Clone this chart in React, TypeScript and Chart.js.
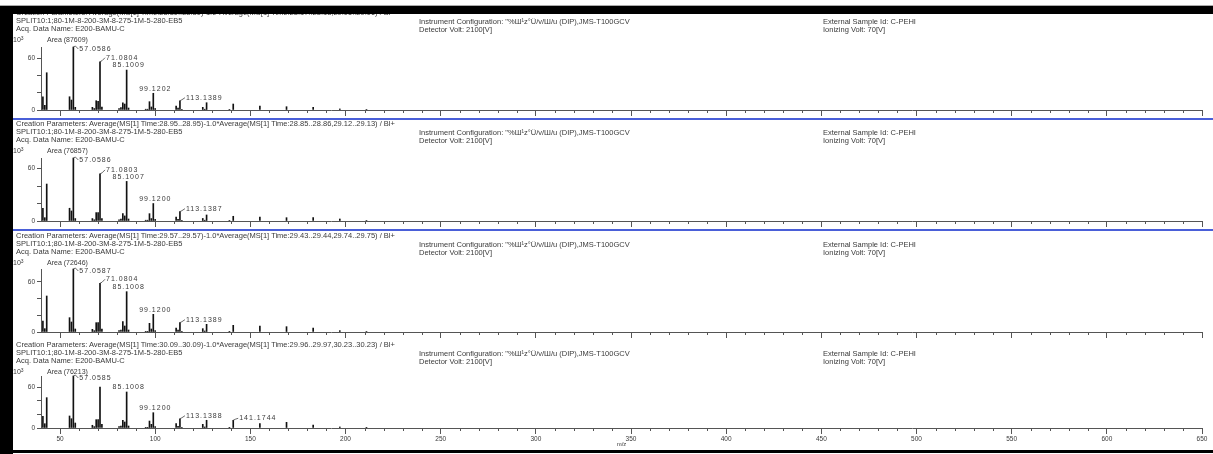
import React, { useEffect, useRef } from "react";
import { Chart, registerables } from "chart.js";

Chart.register(...registerables);

// ---------- data ----------
const mzPeaks = [41, 42, 43, 55, 56, 57, 58, 67, 68, 69, 70, 71, 72, 81, 82, 83, 84, 85, 86, 95, 96, 97, 98, 99, 100, 111, 112, 113, 114, 125, 126, 127, 139, 141, 155, 169, 183, 197, 211];
const intensity1 = [15.3, 5.4, 43, 15.3, 11.5, 72.7, 3.1, 3.1, 1.7, 10.7, 10, 55.7, 3.5, 1.7, 2.9, 8.4, 6.9, 46.1, 2.3, 0.9, 0.9, 9.6, 3.5, 19.3, 1.7, 4.6, 2.3, 10.7, 0.9, 3.1, 0.9, 8.4, 0.7, 6.9, 4.6, 3.8, 3.1, 1.2, 0.5];
const intensity2 = [14.6, 3.8, 42.3, 14.6, 11.5, 72.1, 2.8, 2.8, 1.4, 9.6, 9.6, 53.9, 2.8, 1.4, 2.3, 8.4, 5.8, 45.3, 2.3, 0.9, 0.9, 8.4, 2.8, 20, 1.8, 4.6, 1.8, 10.7, 0.9, 2.9, 0.9, 6.9, 0.7, 5.4, 4.6, 3.8, 3.8, 2.3, 0.5];
const intensity3 = [13.2, 4, 43.2, 17.2, 12, 75.6, 3.6, 3.2, 1.6, 11.2, 11.2, 58.5, 3.6, 1.6, 2.4, 12.4, 7.2, 48.4, 2.4, 0.8, 0.8, 10.4, 3.6, 21.2, 1.6, 4.8, 2.4, 11.2, 0.8, 4, 1.2, 9.2, 0.8, 8, 7.2, 6.4, 4.8, 1.6, 0.5];
const intensity4 = [17.1, 6.3, 44.4, 17.6, 13.6, 76.1, 7.3, 4, 2, 12.2, 12.2, 60, 5.4, 2, 2.9, 11.3, 8.8, 52.7, 2.9, 1, 1, 10.2, 5.4, 22.4, 2, 6.3, 2.5, 13.6, 1, 5.4, 1.5, 11.3, 1, 11.3, 6.3, 8.3, 4.4, 1.5, 0.4];

const xTickValues = [50, 100, 150, 200, 250, 300, 350, 400, 450, 500, 550, 600, 650];
const yTickValues = [0, 20, 40, 60, 80, 100];
const yLabelValues = [0, 60];
const areaValues = ["87609", "76857", "72646", "76213"];
const creationLines = [
  "Creation Parameters: Average(MS[1] Time:28.30..28.30)-1.0*Average(MS[1] Time:28.17..28.18,29.05..29.06) / Bl+",
  "Creation Parameters: Average(MS[1] Time:28.95..28.95)-1.0*Average(MS[1] Time:28.85..28.86,29.12..29.13) / Bl+",
  "Creation Parameters: Average(MS[1] Time:29.57..29.57)-1.0*Average(MS[1] Time:29.43..29.44,29.74..29.75) / Bl+",
  "Creation Parameters: Average(MS[1] Time:30.09..30.09)-1.0*Average(MS[1] Time:29.96..29.97,30.23..30.23) / Bl+",
];
const methodLine = "SPLIT10:1;80-1M-8-200-3M-8-275-1M-5-280-EB5";
const acqLine = "Acq. Data Name: E200-BAMU-C";
const instrumentLine = "Instrument Configuration: \"%Ш\u00b9z\u00b0Ü/v/Ш/u (DIP),JMS-T100GCV";
const detectorLine = "Detector Volt: 2100[V]";
const sampleLine = "External Sample Id: C-PEHI";
const ionizingLine = "Ionizing Volt: 70[V]";
const xTitle = "m/z";

const peakLabels1 = [
  { mz: 57, text: "57.0586" }, { mz: 71, text: "71.0804" }, { mz: 85, text: "85.1009" },
  { mz: 99, text: "99.1202" }, { mz: 113, text: "113.1389" },
];
const peakLabels2 = [
  { mz: 57, text: "57.0586" }, { mz: 71, text: "71.0803" }, { mz: 85, text: "85.1007" },
  { mz: 99, text: "99.1200" }, { mz: 113, text: "113.1387" },
];
const peakLabels3 = [
  { mz: 57, text: "57.0587" }, { mz: 71, text: "71.0804" }, { mz: 85, text: "85.1008" },
  { mz: 99, text: "99.1200" }, { mz: 113, text: "113.1389" },
];
const peakLabels4 = [
  { mz: 57, text: "57.0585" }, { mz: 85, text: "85.1008" }, { mz: 99, text: "99.1200" },
  { mz: 113, text: "113.1388" }, { mz: 141, text: "141.1744" },
];

// ---------- layout / style ----------
const W = 1213;
const FONT = "'Liberation Sans', Arial, sans-serif";
const TEXT = "#3a3a3a";
const AXIS = "#555";
const X_MIN = 40;
const X_MAX = 650;
const PLOT_LEFT = 41;
const PLOT_RIGHT = 1202;
const ROOM_TOP = 8;
const HEADER_SIZE = 7.5;

// how each label is placed relative to its peak top
const LABEL_STYLE: Record<number, { kind: string; dy: number }> = {
  57: { kind: "hook", dy: 2 },
  71: { kind: "hook", dy: -4 },
  85: { kind: "above", dy: 0 },
  99: { kind: "above", dy: 0 },
  113: { kind: "hook", dy: -3 },
  141: { kind: "hook", dy: -2 },
};

const PANELS = [
  { line1: 13, baseline: 110, axisPx: 63, values: intensity1, labels: peakLabels1, showX: false },
  { line1: 124, baseline: 221, axisPx: 63, values: intensity2, labels: peakLabels2, showX: false },
  { line1: 236, baseline: 332, axisPx: 63, values: intensity3, labels: peakLabels3, showX: false },
  { line1: 345, baseline: 428, axisPx: 52, values: intensity4, labels: peakLabels4, showX: true },
];

function makePlugins(values: number[], labels: { mz: number; text: string }[]) {
  return [
    {
      id: "minorTicks",
      afterDraw(chart: any) {
        const { ctx, scales } = chart;
        const x = scales.x;
        const y = scales.y;
        ctx.save();
        ctx.strokeStyle = AXIS;
        ctx.lineWidth = 1;
        ctx.beginPath();
        for (let v = X_MIN + 10; v < X_MAX; v += 10) {
          if (v % 50 === 0) continue;
          const px = Math.round(x.getPixelForValue(v)) + 0.5;
          ctx.moveTo(px, y.bottom);
          ctx.lineTo(px, y.bottom + 3);
        }
        ctx.stroke();
        ctx.restore();
      },
    },
    {
      id: "peakLabels",
      afterDatasetsDraw(chart: any) {
        const { ctx, scales } = chart;
        const x = scales.x;
        const y = scales.y;
        ctx.save();
        ctx.font = `7px ${FONT}`;
        (ctx as any).letterSpacing = "1px";
        ctx.fillStyle = TEXT;
        ctx.strokeStyle = "#444";
        ctx.lineWidth = 0.8;
        labels.forEach((l) => {
          const idx = mzPeaks.indexOf(l.mz);
          const v = values[idx];
          const px = x.getPixelForValue(l.mz);
          const py = y.getPixelForValue(v);
          const st = LABEL_STYLE[l.mz] || { kind: "hook", dy: -3 };
          if (st.kind === "above") {
            ctx.textAlign = "center";
            ctx.textBaseline = "bottom";
            ctx.fillText(l.text, px + 2, py - 1);
          } else {
            const ty = py + st.dy;
            ctx.beginPath();
            ctx.moveTo(px, py);
            ctx.lineTo(px + 2, py - 1);
            ctx.lineTo(px + 5, ty);
            ctx.stroke();
            ctx.textAlign = "left";
            ctx.textBaseline = "middle";
            ctx.fillText(l.text, px + 6, ty);
          }
        });
        ctx.restore();
      },
    },
  ];
}

function textStyle(x: number, cy: number, size: number = HEADER_SIZE): any {
  return {
    position: "absolute",
    left: x,
    top: cy - 4,
    height: 8,
    lineHeight: "8px",
    fontSize: size,
    fontFamily: FONT,
    color: TEXT,
    whiteSpace: "nowrap",
  };
}

export default function App() {
  const refs = [useRef<HTMLCanvasElement>(null), useRef<HTMLCanvasElement>(null), useRef<HTMLCanvasElement>(null), useRef<HTMLCanvasElement>(null)];

  useEffect(() => {
    const charts: Chart[] = [];
    PANELS.forEach((p, i) => {
      const canvas = refs[i].current;
      if (!canvas) return;
      const xH = p.showX ? 20 : 8;
      const yMax = Math.max(...p.values);
      const chart = new Chart(canvas, {
        type: "bar",
        data: {
          datasets: [
            {
              data: mzPeaks.map((m, k) => ({ x: m, y: p.values[k] })),
              backgroundColor: "#111",
              borderWidth: 0,
              barThickness: 1,
              clip: false as any,
            } as any,
          ],
        },
        options: {
          animation: false,
          responsive: false,
          events: [],
          layout: { padding: { top: ROOM_TOP, left: 0, right: W - PLOT_RIGHT, bottom: 0 } },
          plugins: { legend: { display: false }, tooltip: { enabled: false } },
          scales: {
            x: {
              type: "linear",
              offset: false,
              min: X_MIN,
              max: X_MAX,
              afterFit: (s: any) => {
                s.height = xH;
              },
              afterBuildTicks: (s: any) => {
                s.ticks = xTickValues.map((v) => ({ value: v }));
              },
              ticks: {
                display: p.showX,
                autoSkip: false,
                maxRotation: 0,
                padding: 1,
                color: TEXT,
                font: { size: 6.5, family: FONT },
              },
              grid: { offset: false, drawOnChartArea: false, drawTicks: true, tickLength: 6, color: AXIS },
              border: { display: true, color: AXIS, width: 1 },
              title: { display: p.showX, text: xTitle, color: TEXT, font: { size: 6, family: FONT }, padding: 0 },
            },
            y: {
              min: 0,
              max: yMax,
              afterFit: (s: any) => {
                s.width = PLOT_LEFT;
              },
              afterBuildTicks: (s: any) => {
                s.ticks = yTickValues.filter((v) => v <= yMax).map((v) => ({ value: v }));
              },
              ticks: {
                padding: 2,
                color: TEXT,
                font: { size: 6.5, family: FONT },
                callback: (v: any) => (yLabelValues.includes(Number(v)) ? String(v) : ""),
              },
              grid: { drawOnChartArea: false, drawTicks: true, tickLength: 4, color: AXIS },
              border: { display: true, color: AXIS, width: 1 },
            },
          },
        },
        plugins: makePlugins(p.values, p.labels) as any,
      });
      charts.push(chart);
    });
    return () => charts.forEach((c) => c.destroy());
  }, []);

  return (
    <div
      style={{
        position: "fixed",
        left: 0,
        top: 0,
        width: W,
        height: 454,
        overflow: "hidden",
        background: "#fff",
      }}
    >
      {PANELS.map((p, i) => {
        const xH = p.showX ? 20 : 8;
        const top = p.baseline - p.axisPx - ROOM_TOP;
        const h = p.baseline - top + xH;
        return (
          <canvas
            key={"c" + i}
            ref={refs[i]}
            width={W}
            height={h}
            style={{ position: "absolute", left: 0, top, width: W, height: h }}
          />
        );
      })}
      <div style={{ position: "absolute", left: 0, top: 0, width: W, height: 454, willChange: "transform" }}>
        {PANELS.map((p, i) => (
          <React.Fragment key={"t" + i}>
            <div style={textStyle(16, p.line1)}>{creationLines[i]}</div>
            <div style={textStyle(16, p.line1 + 8)}>{methodLine}</div>
            <div style={textStyle(16, p.line1 + 16)}>{acqLine}</div>
            <div style={textStyle(13, p.line1 + 27, 7)}>
              10<sup style={{ fontSize: 5, verticalAlign: "top", lineHeight: "5px" }}>3</sup>
            </div>
            <div style={textStyle(47, p.line1 + 27, 7)}>Area ({areaValues[i]})</div>
            <div style={textStyle(419, p.line1 + 9)}>{instrumentLine}</div>
            <div style={textStyle(419, p.line1 + 17)}>{detectorLine}</div>
            <div style={textStyle(823, p.line1 + 9)}>{sampleLine}</div>
            <div style={textStyle(823, p.line1 + 17)}>{ionizingLine}</div>
          </React.Fragment>
        ))}
      </div>
      {/* blue selection lines */}
      <div style={{ position: "absolute", left: 13, top: 118, width: W, height: 2, background: "#4a5fd8" }} />
      <div style={{ position: "absolute", left: 13, top: 229, width: W, height: 2, background: "#4a5fd8" }} />
      {/* black frame */}
      <div style={{ position: "absolute", left: 0, top: 5, width: W, height: 1, background: "#aaa" }} />
      <div style={{ position: "absolute", left: 0, top: 6, width: W, height: 8, background: "#000" }} />
      <div style={{ position: "absolute", left: 0, top: 6, width: 13, height: 448, background: "#000" }} />
      <div style={{ position: "absolute", left: 0, top: 450, width: W, height: 3, background: "#000" }} />
    </div>
  );
}
